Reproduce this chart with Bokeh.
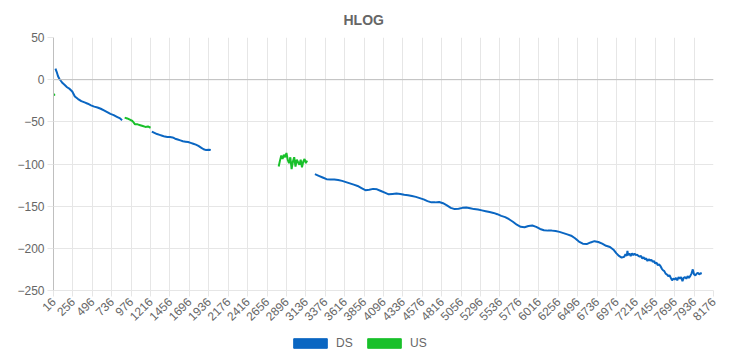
import math
from bokeh.plotting import figure
from bokeh.layouts import column
from bokeh.models import Range1d, FixedTicker, Legend, LegendItem, Span, ColumnDataSource
from bokeh.embed import file_html
from bokeh.resources import INLINE

# ---- data (tone index, HLOG dB) ----
ds1_tone = [40, 56, 72, 88, 104, 128, 152, 184, 216, 248, 264, 280, 320, 360, 400, 440, 480, 520, 560, 600, 640, 680, 720, 760, 800, 840, 864]
ds1_val = [13, 9, 4, 1, -1, -4, -6, -9, -11, -14, -17, -20, -23, -25.5, -27, -28.5, -30.5, -32, -33, -34.5, -36.5, -38.5, -40.5, -42, -44, -46, -48]

us1_tone = [16, 24, 32]
us1_val = [-16.5, -18, -19]

us2_tone = [896, 928, 960, 992, 1008, 1024, 1056, 1088, 1120, 1152, 1184, 1216]
us2_val = [-45, -46, -47.5, -49, -51, -53, -53, -54, -55, -56, -55.5, -57]

ds2_tone = [1232, 1264, 1296, 1328, 1360, 1392, 1424, 1456, 1488, 1520, 1552, 1584, 1616, 1648, 1680, 1712, 1744, 1776, 1808, 1840, 1872, 1904, 1936, 1960]
ds2_val = [-61.5, -63, -64.5, -65.5, -66.5, -67.5, -68, -68, -68.5, -70, -71, -72, -73, -73.5, -74, -75, -76, -77, -78.5, -80.5, -82.5, -83.5, -83, -83.5]

us3_tone = [2800, 2816, 2832, 2848, 2864, 2880, 2896, 2912, 2928, 2944, 2960, 2976, 2992, 3008, 3024, 3040, 3056, 3072, 3088, 3104, 3120, 3136, 3152]
us3_val = [-103, -96, -90, -94, -89, -92, -87, -95, -99, -92, -106, -97, -92, -103, -95, -98, -101, -95, -104, -97, -94, -99, -96]

ds3_tone = [3248, 3296, 3344, 3392, 3440, 3488, 3536, 3584, 3632, 3680, 3728, 3776, 3824, 3872, 3920, 3968,
            4016, 4064, 4112, 4160, 4208, 4256, 4304, 4352, 4400, 4448, 4496, 4544, 4592, 4640, 4688, 4736,
            4784, 4832, 4880, 4928, 4976, 5024, 5072, 5120, 5168, 5216, 5264, 5312, 5360, 5408, 5456, 5504,
            5552, 5600, 5648, 5696, 5744, 5792, 5840, 5888, 5936, 5984, 6032, 6080, 6128, 6176, 6224, 6272,
            6320, 6368, 6416, 6464, 6512, 6560, 6608, 6656, 6704, 6752, 6800, 6848, 6896, 6944, 6976, 7008,
            7040, 7072, 7088, 7104, 7112, 7120, 7136, 7152, 7168, 7184, 7200, 7216, 7232, 7248, 7264, 7280,
            7296, 7312, 7328, 7344, 7360, 7376, 7392, 7408, 7424, 7440, 7456, 7472, 7488, 7504, 7520, 7536,
            7552, 7568, 7584, 7600, 7616, 7632, 7648, 7664, 7680, 7696, 7712, 7728, 7744, 7760, 7776, 7792,
            7808, 7824, 7840, 7856, 7872, 7888, 7904, 7920, 7936, 7952, 7968, 7984, 8000, 8016, 8032]
ds3_val = [-112, -114, -116, -118, -118.5, -118.5, -119, -120, -121.5, -123, -124.5, -126, -128.5, -131, -130.5, -129.5,
           -130, -132, -134, -136, -135.5, -135, -135.5, -136.5, -137, -138, -139, -140.5, -142, -144, -145.5, -145.5,
           -145, -146.5, -149, -152, -153.5, -153, -152, -151.5, -152.5, -153.5, -154, -155, -156, -157, -158, -159.5,
           -161.5, -163, -165.5, -168.5, -172, -174.5, -175, -173.5, -173, -174.5, -177, -178.5, -179, -179, -179.5, -180.5,
           -182, -183.5, -185, -188, -192, -194.5, -195, -193, -191.5, -192.5, -194.5, -197, -198.5, -202, -206, -209,
           -211, -210, -207, -209, -203, -208, -206, -209, -206, -208, -206.5, -208, -207.5, -209, -210, -209,
           -212, -210.5, -213, -212, -215, -213, -214.5, -213.5, -216, -215, -218, -217, -220, -219, -221, -224,
           -226, -227, -230, -231, -233, -232, -235, -238, -236, -237, -235, -238, -234, -236, -234, -239,
           -235, -234, -236, -233, -235, -233, -230, -225, -231, -232, -230, -229, -231, -229.5, -230]

x_tick_labels = [str(v) for v in range(16, 8177, 240)]
y_ticks = [-250, -200, -150, -100, -50, 0, 50]
series_names = ["DS", "US"]

DS_COLOR = "#0a66c2"
US_COLOR = "#19c02a"
GRID = "#e6e6e6"
ZERO = "#bfbfbf"
TXT = "#666666"
FONT = "Liberation Sans"


def join(segs):
    xs, ys = [], []
    for sx, sy in segs:
        if xs:
            xs.append(float("nan"))
            ys.append(float("nan"))
        xs.extend(sx)
        ys.extend(sy)
    return xs, ys


p = figure(width=741, height=327, output_backend="svg", toolbar_location=None,
           x_range=Range1d(16, 8176), y_range=Range1d(-250, 50),
           title="HLOG")
p.min_border_left = 53
p.min_border_right = 28
p.min_border_top = 37
p.min_border_bottom = 35
p.outline_line_color = None

p.title.text_font = FONT
p.title.text_font_size = "14px"
p.title.text_color = TXT
p.title.text_font_style = "bold"
p.title.align = "left"
p.title.offset = 290
p.title.standoff = 19

p.xaxis.ticker = FixedTicker(ticks=[int(t) for t in x_tick_labels])
p.xaxis.major_label_orientation = math.pi / 4
p.yaxis.ticker = FixedTicker(ticks=y_ticks)
for ax in (p.xaxis[0], p.yaxis[0]):
    ax.major_label_text_font = FONT
    ax.major_label_text_font_size = "12px"
    ax.major_label_text_color = TXT
    ax.major_tick_line_color = GRID
    ax.major_tick_in = 0
    ax.major_tick_out = 6
    ax.minor_tick_line_color = None
    ax.major_label_standoff = 3
p.xaxis.axis_line_color = GRID
p.yaxis.axis_line_color = ZERO
p.xgrid.grid_line_color = GRID
p.ygrid.grid_line_color = GRID

p.add_layout(Span(location=0, dimension="width", line_color=ZERO, line_width=1))

dx, dy = join([(ds1_tone, ds1_val), (ds2_tone, ds2_val), (ds3_tone, ds3_val)])
ux, uy = join([(us1_tone, us1_val), (us2_tone, us2_val), (us3_tone, us3_val)])
p.line(dx, dy, line_color=DS_COLOR, line_width=2)
p.line(ux, uy, line_color=US_COLOR, line_width=2)

# ---- legend strip below the chart ----
lg = figure(width=741, height=30, output_backend="svg", toolbar_location=None,
            x_range=Range1d(0, 1), y_range=Range1d(0, 1),
            x_axis_location=None, y_axis_location=None)
lg.min_border = 0
lg.outline_line_color = None
lg.grid.visible = False

nan = float("nan")
renderers = []
for color in (DS_COLOR, US_COLOR):
    src = ColumnDataSource(dict(left=[nan], right=[nan], top=[nan], bottom=[nan]))
    renderers.append(lg.quad(source=src, left="left", right="right", top="top", bottom="bottom",
                             fill_color=color, line_color=color))

legend = Legend(items=[LegendItem(label=n, renderers=[r]) for n, r in zip(series_names, renderers)],
                orientation="horizontal", location=(236, 7))
legend.glyph_width = 42
legend.glyph_height = 12
legend.label_height = 12
legend.label_text_font = FONT
legend.label_text_font_size = "12px"
legend.label_text_color = TXT
legend.label_standoff = 5
legend.spacing = 7
legend.padding = 0
legend.margin = 0
legend.border_line_color = None
legend.background_fill_alpha = 0
lg.add_layout(legend, "center")

layout = column(p, lg, spacing=0)
open("out.html", "w").write(file_html(layout, INLINE))
